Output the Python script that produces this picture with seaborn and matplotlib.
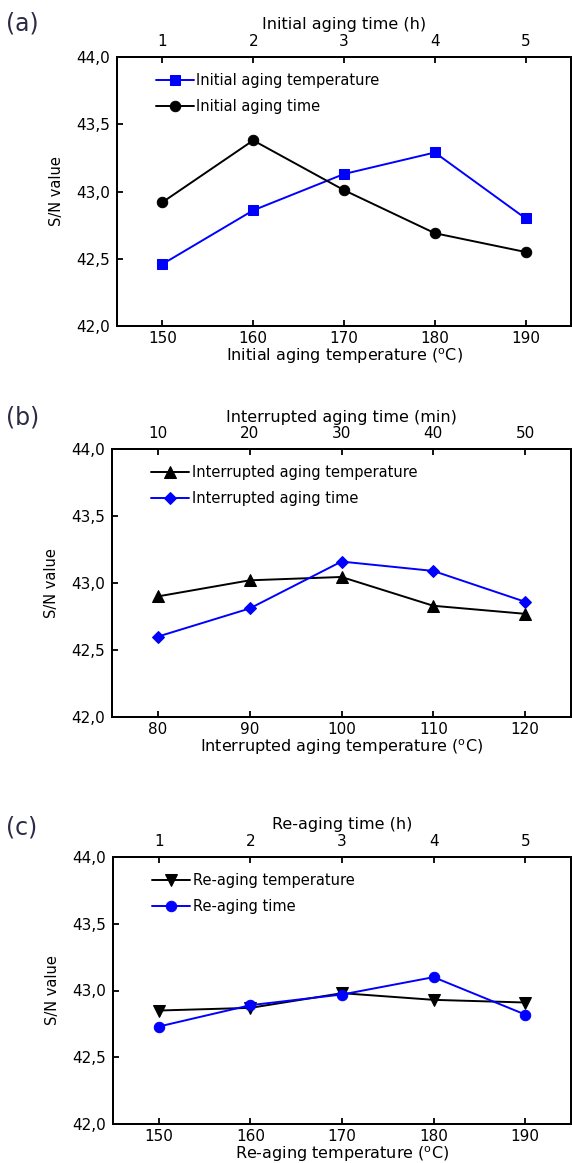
import matplotlib
matplotlib.use("Agg")
import matplotlib.pyplot as plt
import seaborn as sns
import numpy as np

sns.set_theme(style="ticks")
plt.rcParams['font.family'] = ['DejaVu Sans']
plt.rcParams['text.color'] = 'black'
plt.rcParams['axes.labelcolor'] = 'black'

# ---------------- data ----------------
temp_a = [150, 160, 170, 180, 190]
time_a = [1, 2, 3, 4, 5]
sn_temp_a = [42.46, 42.86, 43.13, 43.29, 42.80]
sn_time_a = [42.92, 43.38, 43.01, 42.69, 42.55]

temp_b = [80, 90, 100, 110, 120]
time_b = [10, 20, 30, 40, 50]
sn_temp_b = [42.90, 43.02, 43.045, 42.83, 42.77]
sn_time_b = [42.60, 42.81, 43.16, 43.09, 42.86]

temp_c = [150, 160, 170, 180, 190]
time_c = [1, 2, 3, 4, 5]
sn_temp_c = [42.85, 42.87, 42.98, 42.93, 42.91]
sn_time_c = [42.73, 42.89, 42.97, 43.10, 42.82]

yticks = [42.0, 42.5, 43.0, 43.5, 44.0]
ytick_labels = ["42,0", "42,5", "43,0", "43,5", "44,0"]

BLUE = "#0000FF"
BLACK = "#000000"

panels = [
    dict(letter="(a)", rect=[117/572, 1-326/1163, 454/572, 269/1163],
         temp=temp_a, time=time_a, sn_temp=sn_temp_a, sn_time=sn_time_a,
         xlim=(145, 195), tlim=(0.5, 5.5),
         xlabel="Initial aging temperature ($^{\\rm o}$C)",
         tlabel="Initial aging time (h)",
         temp_style=dict(color=BLUE, marker="s"), time_style=dict(color=BLACK, marker="o"),
         temp_label="Initial aging temperature", time_label="Initial aging time",
         letter_y=1-24/1163),
    dict(letter="(b)", rect=[112/572, 1-717/1163, 459/572, 268/1163],
         temp=temp_b, time=time_b, sn_temp=sn_temp_b, sn_time=sn_time_b,
         xlim=(75, 125), tlim=(5, 55),
         xlabel="Interrupted aging temperature ($^{\\rm o}$C)",
         tlabel="Interrupted aging time (min)",
         temp_style=dict(color=BLACK, marker="^"), time_style=dict(color=BLUE, marker="D"),
         temp_label="Interrupted aging temperature", time_label="Interrupted aging time",
         letter_y=1-418/1163),
    dict(letter="(c)", rect=[113/572, 1-1124/1163, 458/572, 267/1163],
         temp=temp_c, time=time_c, sn_temp=sn_temp_c, sn_time=sn_time_c,
         xlim=(145, 195), tlim=(0.5, 5.5),
         xlabel="Re-aging temperature ($^{\\rm o}$C)",
         tlabel="Re-aging time (h)",
         temp_style=dict(color=BLACK, marker="v"), time_style=dict(color=BLUE, marker="o"),
         temp_label="Re-aging temperature", time_label="Re-aging time",
         letter_y=1-828/1163),
]

fig = plt.figure(figsize=(5.72, 11.63), dpi=100)

TICK_FS = 11
LABEL_FS = 11.5
LEG_FS = 10.5

for p in panels:
    ax = fig.add_axes(p["rect"])
    ax2 = ax.twiny()
    ms = {"s": 7.5, "o": 7.5, "^": 8, "v": 8, "D": 6.5}
    ts, tm = p["temp_style"], p["time_style"]
    sns.lineplot(x=p["temp"], y=p["sn_temp"], ax=ax, color=ts["color"], marker=ts["marker"],
                 markersize=ms[ts["marker"]], markeredgecolor=ts["color"], linewidth=1.4)
    sns.lineplot(x=p["time"], y=p["sn_time"], ax=ax2, color=tm["color"], marker=tm["marker"],
                 markersize=ms[tm["marker"]], markeredgecolor=tm["color"], linewidth=1.4)
    ax.set_xlim(*p["xlim"])
    ax2.set_xlim(*p["tlim"])
    ax.set_ylim(42.0, 44.0)
    ax.set_xticks(p["temp"])
    ax2.set_xticks(p["time"])
    ax.set_yticks(yticks)
    ax.set_yticklabels(ytick_labels)
    for a in (ax, ax2):
        for s in a.spines.values():
            s.set_linewidth(1.4)
            s.set_color("black")
    ax.tick_params(axis="x", direction="in", length=4, width=1.3, labelsize=TICK_FS, pad=3.5, colors="black")
    ax.tick_params(axis="y", direction="in", length=4, width=1.3, labelsize=TICK_FS, pad=5, right=False, colors="black")
    ax2.tick_params(axis="x", direction="in", length=4, width=1.3, labelsize=TICK_FS, pad=6, colors="black")
    ax.set_xlabel(p["xlabel"], fontsize=LABEL_FS, labelpad=0.5)
    ax2.set_xlabel(p["tlabel"], fontsize=LABEL_FS, labelpad=3)
    ax.set_ylabel("S/N value", fontsize=LABEL_FS - 1, labelpad=9)

    h1 = ax.get_lines()[0]
    h2 = ax2.get_lines()[0]
    ax.legend([h1, h2], [p["temp_label"], p["time_label"]], loc="upper left",
              bbox_to_anchor=(0.085, 0.94), frameon=False, fontsize=LEG_FS,
              handlelength=2.6, handletextpad=0.2, labelspacing=0.75, borderpad=0,
              borderaxespad=0)
    fig.text(6/572, p["letter_y"], p["letter"], fontsize=17, color="#2b2b45",
             ha="left", va="center")

fig.savefig("out.png", dpi=100)
